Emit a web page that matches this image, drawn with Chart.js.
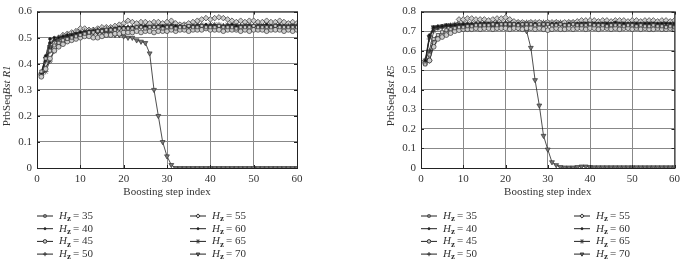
<!DOCTYPE html>
<html>
<head>
<meta charset="utf-8">
<script src="https://cdn.jsdelivr.net/npm/chart.js@4/dist/chart.umd.min.js"></script>
<style>
  body { margin: 0; background: #fff; }
  #grafico1 { position: absolute; left: 0; top: 0; }
  #grafico2 { position: absolute; left: 342px; top: 0; }
</style>
</head>
<body>
<canvas id="grafico1" width="342" height="265"></canvas>
<canvas id="grafico2" width="343" height="265"></canvas>
<script>
// passos de boosting (eixo x)
var passos = [1,2,3,4,5,6,7,8,9,10,11,12,13,14,15,16,17,18,19,20,
  21,22,23,24,25,26,27,28,29,30,31,32,33,34,35,36,37,38,39,40,
  41,42,43,44,45,46,47,48,49,50,51,52,53,54,55,56,57,58,59,60];

var nomesHz = ['35', '40', '45', '50', '55', '60', '65', '70'];
var ticksX = [0, 10, 20, 30, 40, 50, 60];

// PrbSeqBst R1
var r1_35 = [0.370,0.420,0.450,0.470,0.480,0.490,0.495,0.500,0.505,0.510,
  0.515,0.520,0.520,0.525,0.525,0.530,0.530,0.530,0.535,0.535,
  0.535,0.535,0.540,0.540,0.535,0.540,0.540,0.540,0.535,0.540,
  0.540,0.535,0.540,0.540,0.545,0.540,0.540,0.545,0.540,0.540,
  0.540,0.545,0.540,0.540,0.540,0.535,0.540,0.540,0.540,0.545,
  0.540,0.540,0.540,0.540,0.545,0.540,0.540,0.540,0.540,0.540];
var r1_40 = [0.365,0.430,0.495,0.500,0.500,0.505,0.510,0.510,0.515,0.520,
  0.520,0.525,0.525,0.530,0.530,0.530,0.535,0.535,0.540,0.540,
  0.540,0.540,0.540,0.545,0.540,0.540,0.540,0.545,0.545,0.540,
  0.545,0.545,0.545,0.540,0.545,0.545,0.545,0.545,0.550,0.545,
  0.545,0.545,0.545,0.545,0.550,0.545,0.545,0.545,0.545,0.545,
  0.545,0.545,0.550,0.545,0.545,0.545,0.545,0.545,0.545,0.545];
var r1_45 = [0.350,0.380,0.420,0.450,0.465,0.475,0.485,0.490,0.495,0.500,
  0.505,0.505,0.500,0.500,0.505,0.510,0.510,0.515,0.515,0.520,
  0.520,0.520,0.525,0.520,0.525,0.525,0.520,0.525,0.525,0.525,
  0.530,0.525,0.530,0.530,0.525,0.530,0.530,0.530,0.535,0.530,
  0.530,0.530,0.525,0.530,0.530,0.530,0.525,0.530,0.525,0.530,
  0.530,0.530,0.525,0.530,0.530,0.530,0.525,0.530,0.525,0.530];
var r1_50 = [0.360,0.410,0.470,0.490,0.500,0.505,0.510,0.515,0.520,0.520,
  0.525,0.525,0.530,0.530,0.530,0.535,0.535,0.535,0.535,0.540,
  0.540,0.535,0.540,0.540,0.540,0.540,0.545,0.540,0.540,0.545,
  0.545,0.540,0.540,0.545,0.540,0.545,0.545,0.540,0.545,0.545,
  0.545,0.540,0.545,0.545,0.540,0.545,0.545,0.545,0.540,0.545,
  0.545,0.540,0.545,0.540,0.545,0.545,0.540,0.545,0.545,0.545];
var r1_55 = [0.360,0.400,0.450,0.480,0.500,0.510,0.515,0.520,0.525,0.535,
  0.535,0.530,0.530,0.535,0.540,0.540,0.540,0.545,0.550,0.555,
  0.565,0.560,0.555,0.560,0.560,0.555,0.560,0.560,0.555,0.560,
  0.565,0.555,0.550,0.550,0.555,0.560,0.565,0.570,0.575,0.570,
  0.575,0.578,0.575,0.570,0.565,0.560,0.565,0.560,0.565,0.565,
  0.560,0.560,0.565,0.560,0.560,0.565,0.560,0.555,0.560,0.555];
var r1_60 = [0.360,0.425,0.480,0.490,0.500,0.505,0.505,0.510,0.515,0.520,
  0.525,0.525,0.530,0.530,0.535,0.535,0.535,0.540,0.540,0.540,
  0.540,0.540,0.540,0.540,0.545,0.545,0.540,0.540,0.540,0.545,
  0.540,0.540,0.545,0.545,0.540,0.540,0.545,0.545,0.540,0.545,
  0.545,0.540,0.540,0.545,0.545,0.540,0.540,0.540,0.545,0.545,
  0.540,0.545,0.540,0.540,0.540,0.545,0.545,0.540,0.540,0.540];
var r1_65 = [0.355,0.370,0.410,0.450,0.470,0.480,0.490,0.500,0.505,0.510,
  0.510,0.515,0.520,0.520,0.525,0.525,0.530,0.530,0.535,0.535,
  0.535,0.540,0.540,0.545,0.545,0.540,0.545,0.545,0.550,0.545,
  0.550,0.550,0.545,0.550,0.550,0.545,0.550,0.550,0.545,0.550,
  0.550,0.550,0.545,0.550,0.550,0.550,0.545,0.550,0.550,0.545,
  0.550,0.550,0.550,0.545,0.550,0.550,0.545,0.550,0.550,0.550];
var r1_70 = [0.360,0.420,0.460,0.480,0.490,0.500,0.500,0.505,0.510,0.510,
  0.515,0.515,0.520,0.520,0.520,0.520,0.515,0.510,0.510,0.505,
  0.500,0.500,0.490,0.485,0.480,0.440,0.300,0.200,0.100,0.045,
  0.012,0,0,0,0,0,0,0,0,0,
  0,0,0,0,0,0,0,0,0,0,
  0,0,0,0,0,0,0,0,0,0];

// PrbSeqBst R5
var r5_35 = [0.530,0.580,0.660,0.680,0.695,0.705,0.710,0.715,0.720,0.720,
  0.725,0.725,0.730,0.730,0.730,0.730,0.735,0.730,0.735,0.735,
  0.735,0.735,0.730,0.735,0.735,0.735,0.730,0.735,0.735,0.735,
  0.730,0.730,0.735,0.730,0.730,0.735,0.730,0.730,0.730,0.735,
  0.730,0.730,0.730,0.725,0.730,0.730,0.730,0.725,0.730,0.730,
  0.725,0.730,0.725,0.725,0.730,0.725,0.725,0.720,0.725,0.720];
var r5_40 = [0.550,0.680,0.720,0.725,0.725,0.730,0.730,0.730,0.730,0.735,
  0.735,0.735,0.735,0.740,0.740,0.740,0.740,0.740,0.740,0.740,
  0.740,0.740,0.740,0.740,0.740,0.740,0.740,0.735,0.740,0.740,
  0.740,0.740,0.740,0.735,0.740,0.740,0.740,0.740,0.740,0.740,
  0.740,0.740,0.740,0.740,0.740,0.745,0.740,0.740,0.740,0.740,
  0.740,0.740,0.740,0.740,0.740,0.740,0.740,0.740,0.740,0.740];
var r5_45 = [0.535,0.550,0.620,0.660,0.670,0.680,0.690,0.700,0.705,0.710,
  0.710,0.710,0.715,0.710,0.715,0.715,0.710,0.715,0.715,0.715,
  0.710,0.715,0.715,0.710,0.715,0.715,0.710,0.715,0.710,0.705,
  0.710,0.715,0.710,0.710,0.715,0.710,0.715,0.715,0.710,0.715,
  0.715,0.710,0.715,0.715,0.710,0.715,0.710,0.715,0.715,0.710,
  0.715,0.710,0.715,0.710,0.710,0.715,0.710,0.710,0.715,0.710];
var r5_50 = [0.540,0.660,0.715,0.720,0.720,0.725,0.725,0.725,0.730,0.725,
  0.730,0.730,0.730,0.730,0.735,0.730,0.730,0.735,0.730,0.730,
  0.730,0.725,0.730,0.730,0.725,0.730,0.730,0.730,0.725,0.730,
  0.730,0.730,0.730,0.725,0.730,0.730,0.725,0.730,0.730,0.730,
  0.730,0.730,0.730,0.730,0.725,0.730,0.730,0.730,0.730,0.730,
  0.725,0.730,0.730,0.730,0.730,0.725,0.730,0.730,0.730,0.730];
var r5_55 = [0.550,0.550,0.640,0.670,0.680,0.690,0.700,0.720,0.760,0.760,
  0.765,0.765,0.760,0.760,0.760,0.755,0.760,0.765,0.765,0.770,
  0.760,0.750,0.745,0.745,0.740,0.745,0.745,0.745,0.740,0.745,
  0.745,0.745,0.740,0.745,0.745,0.745,0.750,0.755,0.755,0.755,
  0.755,0.750,0.755,0.755,0.750,0.755,0.755,0.755,0.750,0.755,
  0.755,0.750,0.755,0.755,0.755,0.750,0.755,0.755,0.750,0.755];
var r5_60 = [0.545,0.670,0.715,0.720,0.725,0.730,0.730,0.735,0.735,0.735,
  0.735,0.735,0.740,0.735,0.735,0.740,0.735,0.735,0.735,0.735,
  0.735,0.735,0.735,0.735,0.735,0.735,0.735,0.735,0.735,0.735,
  0.735,0.735,0.735,0.735,0.735,0.740,0.735,0.735,0.735,0.735,
  0.735,0.735,0.740,0.735,0.735,0.735,0.735,0.735,0.735,0.735,
  0.735,0.735,0.735,0.735,0.735,0.735,0.735,0.740,0.735,0.735];
var r5_65 = [0.550,0.600,0.700,0.715,0.720,0.725,0.730,0.735,0.735,0.740,
  0.740,0.740,0.740,0.740,0.745,0.740,0.745,0.745,0.740,0.745,
  0.745,0.740,0.745,0.740,0.745,0.745,0.740,0.745,0.745,0.745,
  0.740,0.745,0.745,0.740,0.745,0.745,0.740,0.745,0.745,0.745,
  0.745,0.740,0.745,0.745,0.745,0.740,0.745,0.745,0.745,0.745,
  0.740,0.745,0.745,0.745,0.745,0.740,0.745,0.745,0.745,0.745];
var r5_70 = [0.540,0.670,0.720,0.720,0.725,0.730,0.730,0.725,0.720,0.720,
  0.725,0.725,0.725,0.725,0.720,0.720,0.725,0.720,0.720,0.720,
  0.720,0.720,0.715,0.715,0.700,0.615,0.450,0.320,0.165,0.095,
  0.030,0.015,0.005,0.003,0.003,0.003,0.005,0.008,0.008,0.005,
  0.004,0.004,0.004,0.004,0.004,0.004,0.004,0.004,0.004,0.004,
  0.004,0.004,0.004,0.004,0.004,0.004,0.004,0.004,0.004,0.004];

// marcador de cada serie (mesma ordem de nomesHz)
var marcadores = [
  { estilo: 'rect', raio: 2.2, fundo: '#ccc', rot: 0 },
  { estilo: 'circle', raio: 1.4, fundo: '#111', rot: 0 },
  { estilo: 'circle', raio: 2.4, fundo: '#ccc', rot: 0 },
  { estilo: 'cross', raio: 2.8, fundo: '#111', rot: 0 },
  { estilo: 'rectRot', raio: 2.8, fundo: '#ccc', rot: 0 },
  { estilo: 'circle', raio: 1.4, fundo: '#111', rot: 0 },
  { estilo: 'star', raio: 2.8, fundo: '#111', rot: 0 },
  { estilo: 'triangle', raio: 2.8, fundo: '#777', rot: 180 }
];

var fonte = "'Liberation Serif', 'DejaVu Serif', serif";

// caixa em volta da area do grafico + tracinhos internos
var pluginCaixa = {
  id: 'caixa',
  afterDraw: function (chart) {
    var a = chart.chartArea;
    var ctx = chart.ctx;
    ctx.save();
    ctx.strokeStyle = '#222';
    ctx.lineWidth = 1;
    ctx.strokeRect(a.left + 0.5, a.top + 0.5, a.right - a.left, a.bottom - a.top);
    ctx.beginPath();
    chart.scales.x.ticks.forEach(function (t) {
      var px = Math.round(chart.scales.x.getPixelForValue(t.value)) + 0.5;
      ctx.moveTo(px, a.bottom); ctx.lineTo(px, a.bottom - 3);
      ctx.moveTo(px, a.top); ctx.lineTo(px, a.top + 3);
    });
    chart.scales.y.ticks.forEach(function (t) {
      var py = Math.round(chart.scales.y.getPixelForValue(t.value)) + 0.5;
      ctx.moveTo(a.left, py); ctx.lineTo(a.left + 3, py);
      ctx.moveTo(a.right, py); ctx.lineTo(a.right - 3, py);
    });
    ctx.stroke();
    ctx.restore();
  }
};

// titulo do eixo y: PrbSeq normal + Bst Rn italico
var pluginTituloY = {
  id: 'tituloY',
  afterDraw: function (chart, args, opts) {
    var a = chart.chartArea;
    var ctx = chart.ctx;
    ctx.save();
    ctx.translate(a.left - 30, (a.top + a.bottom) / 2 + 6);
    ctx.rotate(-Math.PI / 2);
    ctx.fillStyle = '#333';
    ctx.textBaseline = 'middle';
    ctx.font = '11px ' + fonte;
    var p1 = 'PrbSeq';
    var w1 = ctx.measureText(p1).width;
    ctx.font = 'italic 11px ' + fonte;
    var p2 = 'Bst ' + opts.texto;
    var w2 = ctx.measureText(p2).width;
    var x = -(w1 + w2) / 2;
    ctx.font = '11px ' + fonte;
    ctx.fillText(p1, x, 0);
    ctx.font = 'italic 11px ' + fonte;
    ctx.fillText(p2, x + w1, 0);
    ctx.restore();
  }
};

// legenda em duas colunas abaixo do grafico
var pluginLegenda = {
  id: 'legendaHz',
  afterDraw: function (chart) {
    var a = chart.chartArea;
    var ctx = chart.ctx;
    ctx.save();
    chart.data.datasets.forEach(function (ds, i) {
      var col = i < 4 ? 0 : 1;
      var lin = i % 4;
      var x0 = a.left + col * 153;
      var y = 216 + lin * 12.7;
      ctx.strokeStyle = '#222';
      ctx.lineWidth = 1;
      ctx.beginPath();
      ctx.moveTo(x0, y);
      ctx.lineTo(x0 + 16, y);
      ctx.stroke();
      ctx.fillStyle = ds.pointBackgroundColor;
      ctx.strokeStyle = ds.pointBorderColor;
      Chart.helpers.drawPoint(ctx, {
        pointStyle: ds.pointStyle,
        radius: ds.pointRadius * 0.75,
        rotation: ds.pointRotation,
        borderWidth: 0.8
      }, x0 + 8, y);

      ctx.fillStyle = '#333';
      ctx.textBaseline = 'middle';
      var tx = x0 + 22;
      ctx.font = 'italic 11px ' + fonte;
      ctx.fillText('H', tx, y);
      tx += ctx.measureText('H').width;
      ctx.font = 'bold 9px ' + fonte;
      ctx.fillText('z', tx, y + 3);
      tx += ctx.measureText('z').width + 2;
      ctx.font = '11px ' + fonte;
      ctx.fillText('= ' + nomesHz[i], tx, y);
    });
    ctx.restore();
  }
};

function criarGrafico(idCanvas, series, yMax, textoY, padEsq, padDir) {
  var datasets = [];
  for (var i = 0; i < series.length; i++) {
    var m = marcadores[i];
    datasets.push({
      label: 'Hz = ' + nomesHz[i],
      data: series[i],
      borderColor: '#222',
      borderWidth: 0.8,
      pointStyle: m.estilo,
      pointRadius: m.raio,
      pointRotation: m.rot,
      pointBackgroundColor: m.fundo,
      pointBorderColor: '#333',
      pointBorderWidth: 0.7,
      tension: 0
    });
  }

  var config = {
    type: 'line',
    data: { labels: passos, datasets: datasets },
    options: {
      responsive: false,
      animation: false,
      layout: { padding: { left: padEsq, right: padDir, top: 8, bottom: 65 } },
      plugins: {
        legend: { display: false },
        tooltip: { enabled: false },
        tituloY: { texto: textoY }
      },
      scales: {
        x: {
          type: 'linear',
          min: 0,
          max: 60,
          afterBuildTicks: function (s) { s.ticks = ticksX.map(function (v) { return { value: v }; }); },
          afterFit: function (s) { s.height = 32; },
          grid: { color: '#888', borderDash: [1, 3], drawTicks: false },
          border: { display: false },
          ticks: { padding: 5, color: '#333', font: { family: fonte, size: 11 }, maxRotation: 0 },
          title: { display: true, text: 'Boosting step index', color: '#333', padding: 1, font: { family: fonte, size: 11 } }
        },
        y: {
          min: 0,
          max: yMax,
          afterFit: function (s) { s.width = 37; },
          grid: { color: '#888', borderDash: [1, 3], drawTicks: false },
          border: { display: false },
          ticks: { stepSize: 0.1, padding: 5, color: '#333', font: { family: fonte, size: 11 } }
        }
      }
    },
    plugins: [pluginCaixa, pluginTituloY, pluginLegenda]
  };

  return new Chart(document.getElementById(idCanvas), config);
}

criarGrafico('grafico1', [r1_35, r1_40, r1_45, r1_50, r1_55, r1_60, r1_65, r1_70], 0.6, 'R1', 0, 45);
criarGrafico('grafico2', [r5_35, r5_40, r5_45, r5_50, r5_55, r5_60, r5_65, r5_70], 0.8, 'R5', 42, 8);
</script>
</body>
</html>
